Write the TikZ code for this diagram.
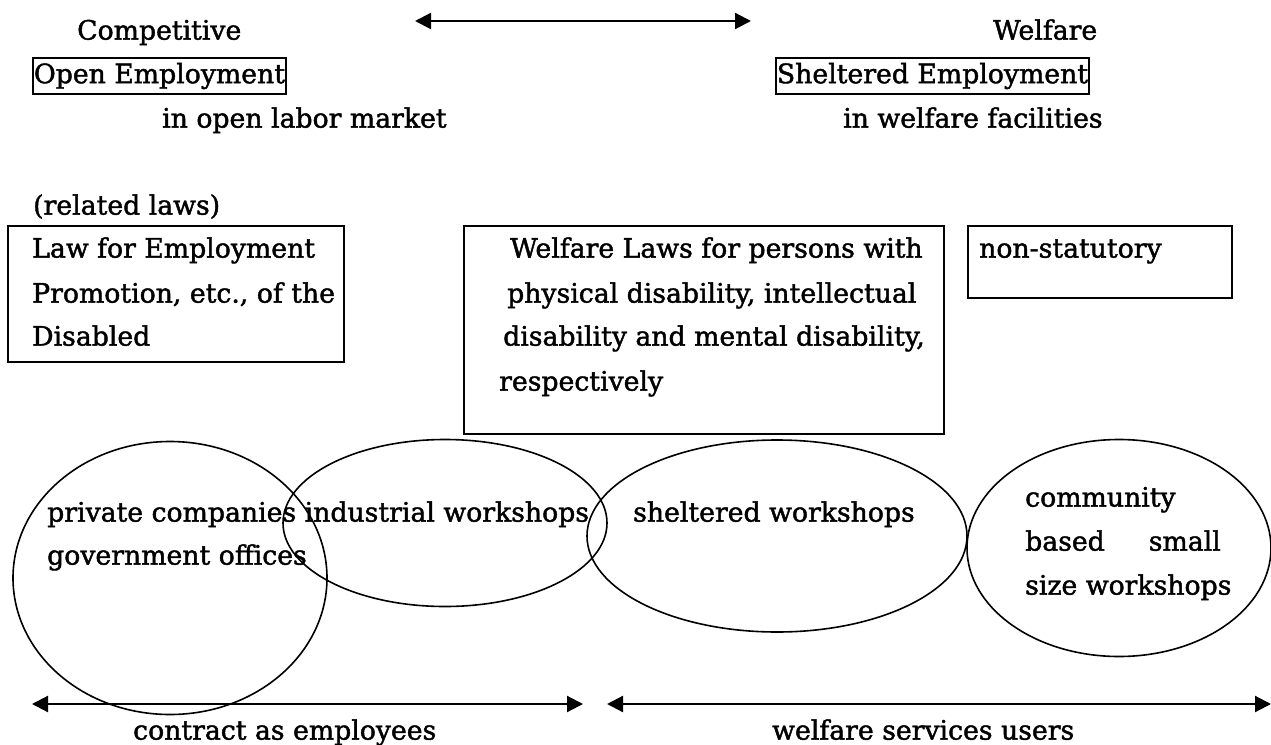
\documentclass[tikz,border=0pt]{standalone}
\usepackage{fontspec}
\setmainfont[RawFeature={embolden=1.6}]{DejaVu Serif}
\usetikzlibrary{arrows.meta,shapes.geometric}
\newcommand\fsz{\fontsize{26.7}{44}\selectfont}
\tikzset{
  txt/.style={anchor=mid west, inner sep=0pt, font=\fsz},
  lbox/.style={draw, line width=1.8pt, anchor=north west, inner sep=0pt},
  tbox/.style={draw, line width=1.8pt, inner xsep=1pt, inner ysep=0pt, minimum height=36pt, anchor=west, font=\fsz},
  oval/.style={draw, ellipse, line width=1.6pt, inner sep=0pt},
  dbl/.style={line width=2.2pt, {Triangle[length=16pt,width=16pt]}-{Triangle[length=16pt,width=16pt]}},
}
\begin{document}
\begin{tikzpicture}[x=1pt,y=-1pt]
\useasboundingbox (0,0) rectangle (1271,744);
% top row
\node[txt] (comp) at (77,37) {Competitive};
\node[txt] (welf) at (993,37) {Welfare};
\coordinate (ta) at (415,21);
\coordinate (tb) at (751,21);
\draw[dbl] (ta) -- (tb);
\node[tbox, yshift=-1pt] (open) at (32,75) {Open Employment};
\node[tbox, yshift=-1pt] (shel) at (775,75) {Sheltered Employment};
\node[txt] (olm) at (162,125) {in open labor market};
\node[txt] (iwf) at (843,125) {in welfare facilities};
% laws
\node[txt] (rel) at (33,212) {(related laws)};
\node[lbox, minimum width=336pt, minimum height=136pt] (b1) at (7,225) {};
\node[txt] (b1a) at (32,255) {Law for Employment};
\node[txt] (b1b) at (32,300) {Promotion, etc., of the};
\node[txt] (b1c) at (32,343) {Disabled};
\node[lbox, minimum width=480pt, minimum height=208pt] (b2) at (463,225) {};
\node[txt] (b2a) at (510,255) {Welfare Laws for persons with};
\node[txt] (b2b) at (507,300) {physical disability, intellectual};
\node[txt] (b2c) at (503,343) {disability and mental disability,};
\node[txt] (b2d) at (499,388) {respectively};
\node[lbox, minimum width=264pt, minimum height=72pt] (b3) at (967,225) {};
\node[txt] (b3a) at (979,255) {non-statutory};
% ellipses
\node[oval, minimum width=314pt, minimum height=273pt] (e1) at (170,578) {};
\node[oval, minimum width=324pt, minimum height=167pt] (e2) at (445,523) {};
\node[oval, minimum width=380pt, minimum height=192pt] (e3) at (777,536) {};
\node[oval, minimum width=304pt, minimum height=217pt] (e4) at (1119,548) {};
\node[txt] (t1) at (47,519) {private companies industrial workshops};
\node[txt] (t2) at (47,562) {government offices};
\node[txt] (t3) at (633,519) {sheltered workshops};
\node[txt] (t4) at (1025,504) {community};
\node[txt] (t5) at (1025,548) {based};
\node[txt, anchor=mid east] (t6) at (1221,548) {small};
\node[txt] (t7) at (1025,592) {size workshops};
% bottom arrows
\coordinate (la) at (32,704);
\coordinate (lb) at (583,704);
\coordinate (ra) at (607,704);
\coordinate (rb) at (1271,704);
\draw[dbl] (la) -- (lb);
\draw[dbl] (ra) -- (rb);
\node[txt] (ce) at (133,737) {contract as employees};
\node[txt] (wsu) at (772,737) {welfare services users};
\end{tikzpicture}
\end{document}
